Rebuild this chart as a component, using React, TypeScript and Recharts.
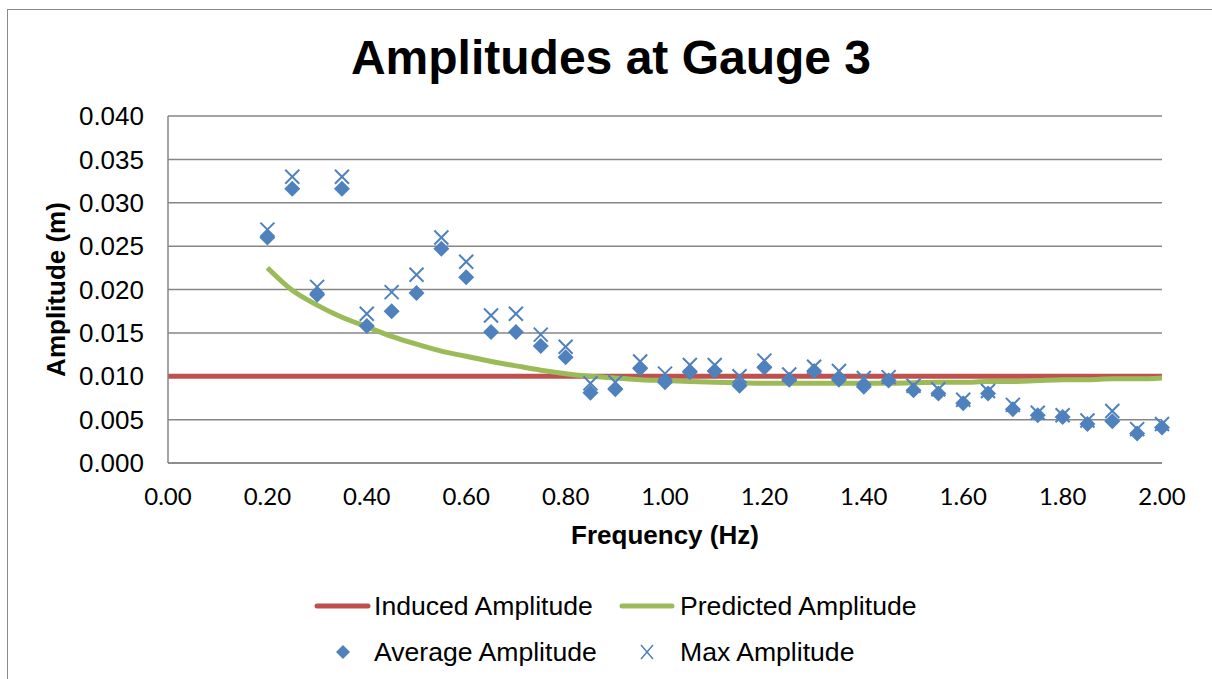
import { ComposedChart, Line, Scatter, XAxis, YAxis, CartesianGrid } from 'recharts'

// Frequencies tested (Hz)
const freqs = [
    0.20, 0.25, 0.30, 0.35, 0.40, 0.45, 0.50, 0.55, 0.60, 0.65, 0.70, 0.75, 0.80,
    0.85, 0.90, 0.95, 1.00, 1.05, 1.10, 1.15, 1.20, 1.25, 1.30, 1.35, 1.40, 1.45,
    1.50, 1.55, 1.60, 1.65, 1.70, 1.75, 1.80, 1.85, 1.90, 1.95, 2.00,
]

// Amplitudes (m)
const averageAmp = [
    0.0260, 0.0316, 0.0194, 0.0316, 0.0158, 0.0175, 0.0196, 0.0247, 0.0214, 0.0151, 0.0151, 0.0135, 0.0122,
    0.0081, 0.0085, 0.0109, 0.0093, 0.0105, 0.0106, 0.0089, 0.0110, 0.0096, 0.0106, 0.0096, 0.0088, 0.0095,
    0.0084, 0.0080, 0.0069, 0.0080, 0.0062, 0.0055, 0.0053, 0.0045, 0.0048, 0.0034, 0.0041,
]
const maxAmp = [
    0.0269, 0.0330, 0.0203, 0.0330, 0.0172, 0.0197, 0.0217, 0.0260, 0.0232, 0.0170, 0.0172, 0.0148, 0.0134,
    0.0092, 0.0093, 0.0117, 0.0103, 0.0113, 0.0113, 0.0100, 0.0118, 0.0102, 0.0111, 0.0106, 0.0098, 0.0099,
    0.0089, 0.0085, 0.0073, 0.0083, 0.0067, 0.0058, 0.0055, 0.0049, 0.0060, 0.0039, 0.0045,
]
const predictedAmp = [
    0.0225, 0.0199, 0.0182, 0.0168, 0.0157, 0.0146, 0.0137, 0.0129, 0.0123, 0.0117, 0.0112, 0.0107, 0.0103,
    0.0100, 0.0098, 0.0096, 0.0095, 0.0094, 0.0093, 0.00925, 0.0092, 0.0092, 0.0092, 0.0092, 0.0092, 0.0092,
    0.00925, 0.0093, 0.0093, 0.0094, 0.0094, 0.0095, 0.0096, 0.0096, 0.0097, 0.0097, 0.0098,
]
const inducedFreqs = [0, 2]
const inducedAmp = [0.01, 0.01]

const xTicks = [0, 0.2, 0.4, 0.6, 0.8, 1.0, 1.2, 1.4, 1.6, 1.8, 2.0]
const yTicks = [0, 0.005, 0.01, 0.015, 0.02, 0.025, 0.03, 0.035, 0.04]

const avgData = freqs.map((x, i) => ({ x, y: averageAmp[i] }))
const maxData = freqs.map((x, i) => ({ x, y: maxAmp[i] }))
const predData = freqs.map((x, i) => ({ x, y: predictedAmp[i] }))
const inducedData = inducedFreqs.map((x, i) => ({ x, y: inducedAmp[i] }))

const BLUE = '#4F81BD'
const RED = '#C0504D'
const GREEN = '#9BBB59'
const GRID = '#868686'
const ARIAL = '"Liberation Sans", Arial, sans-serif'

const Diamond = ({ cx, cy }: any) => (
    <polygon points={`${cx},${cy - 8} ${cx + 8},${cy} ${cx},${cy + 8} ${cx - 8},${cy}`} fill={BLUE} />
)

const Cross = ({ cx, cy }: any) => (
    <g stroke={BLUE} strokeWidth={2}>
        <line x1={cx - 7} y1={cy - 7} x2={cx + 7} y2={cy + 7} />
        <line x1={cx - 7} y1={cy + 7} x2={cx + 7} y2={cy - 7} />
    </g>
)

const YTitle = (props: any) => {
    const vb = props.viewBox || { x: 0, y: 116, height: 347 }
    const x = vb.x + 65
    const y = vb.y + vb.height / 2
    return (
        <text x={x} y={y} transform={`rotate(-90 ${x} ${y})`} textAnchor="middle"
            fontFamily={ARIAL} fontSize={26} fontWeight="bold" fill="#000">
            Amplitude (m)
        </text>
    )
}

const legendText = { position: 'absolute' as const, height: 30, lineHeight: '30px', fontSize: 26.6, fontFamily: ARIAL, color: '#000', whiteSpace: 'nowrap' as const }

export default function App() {
    return (
        <div style={{ position: 'absolute', left: 0, top: 0, width: 1212, height: 679, overflow: 'hidden', background: '#fff' }}>
            <div style={{ position: 'absolute', left: 7, top: 9, width: 1240, height: 700, border: '1.5px solid #8a8a8a' }} />
            <div style={{ position: 'absolute', left: 0, top: 30, width: 1222, height: 56, lineHeight: '56px', textAlign: 'center', fontFamily: ARIAL, fontWeight: 'bold', fontSize: 48, color: '#000' }}>
                Amplitudes at Gauge 3
            </div>
            <div style={{ position: 'absolute', left: 0, top: 0 }}>
                <ComposedChart width={1212} height={679} margin={{ top: 116, right: 50, bottom: 126, left: 0 }}>
                    <CartesianGrid horizontal vertical={false} stroke={GRID} strokeWidth={1.5} />
                    <XAxis
                        type="number"
                        dataKey="x"
                        domain={[0, 2]}
                        ticks={xTicks}
                        tickFormatter={v => v.toFixed(2)}
                        height={90}
                        tickLine={false}
                        tickSize={0}
                        tickMargin={25}
                        stroke={GRID}
                        strokeWidth={1.5}
                        tick={{ fontSize: 24, fill: '#000', fontFamily: 'Lato, "Open Sans", sans-serif' }}
                        label={{ value: 'Frequency (Hz)', position: 'insideBottom', offset: 9, fontSize: 26, fontWeight: 'bold', fill: '#000', fontFamily: ARIAL }}
                    />
                    <YAxis
                        type="number"
                        dataKey="y"
                        domain={[0, 0.04]}
                        ticks={yTicks}
                        tickFormatter={v => v.toFixed(3)}
                        width={168}
                        tickLine={false}
                        tickSize={0}
                        tickMargin={24}
                        stroke={GRID}
                        strokeWidth={1.5}
                        tick={{ fontSize: 26, fill: '#000', fontFamily: ARIAL }}
                        label={{ content: YTitle }}
                    />
                    <Line data={inducedData} dataKey="y" stroke={RED} strokeWidth={5} dot={false} activeDot={false} isAnimationActive={false} />
                    <Line data={predData} dataKey="y" type="monotone" stroke={GREEN} strokeWidth={5} dot={false} activeDot={false} isAnimationActive={false} />
                    <Scatter data={avgData} dataKey="y" shape={Diamond} isAnimationActive={false} />
                    <Scatter data={maxData} dataKey="y" shape={Cross} isAnimationActive={false} />
                </ComposedChart>
            </div>
            {/* legend */}
            <svg style={{ position: 'absolute', left: 0, top: 0 }} width={1212} height={679} pointerEvents="none">
                <line x1={317} y1={606} x2={368} y2={606} stroke={RED} strokeWidth={5} strokeLinecap="round" />
                <line x1={622} y1={606} x2={672} y2={606} stroke={GREEN} strokeWidth={5} strokeLinecap="round" />
                <polygon points="343,645 350,652 343,659 336,652" fill={BLUE} />
                <g stroke={BLUE} strokeWidth={1.5}>
                    <line x1={641} y1={645} x2={653} y2={659} />
                    <line x1={641} y1={659} x2={653} y2={645} />
                </g>
            </svg>
            <div style={{ ...legendText, left: 374, top: 591 }}>Induced Amplitude</div>
            <div style={{ ...legendText, left: 680, top: 591 }}>Predicted Amplitude</div>
            <div style={{ ...legendText, left: 374, top: 637 }}>Average Amplitude</div>
            <div style={{ ...legendText, left: 680, top: 637 }}>Max Amplitude</div>
        </div>
    )
}
